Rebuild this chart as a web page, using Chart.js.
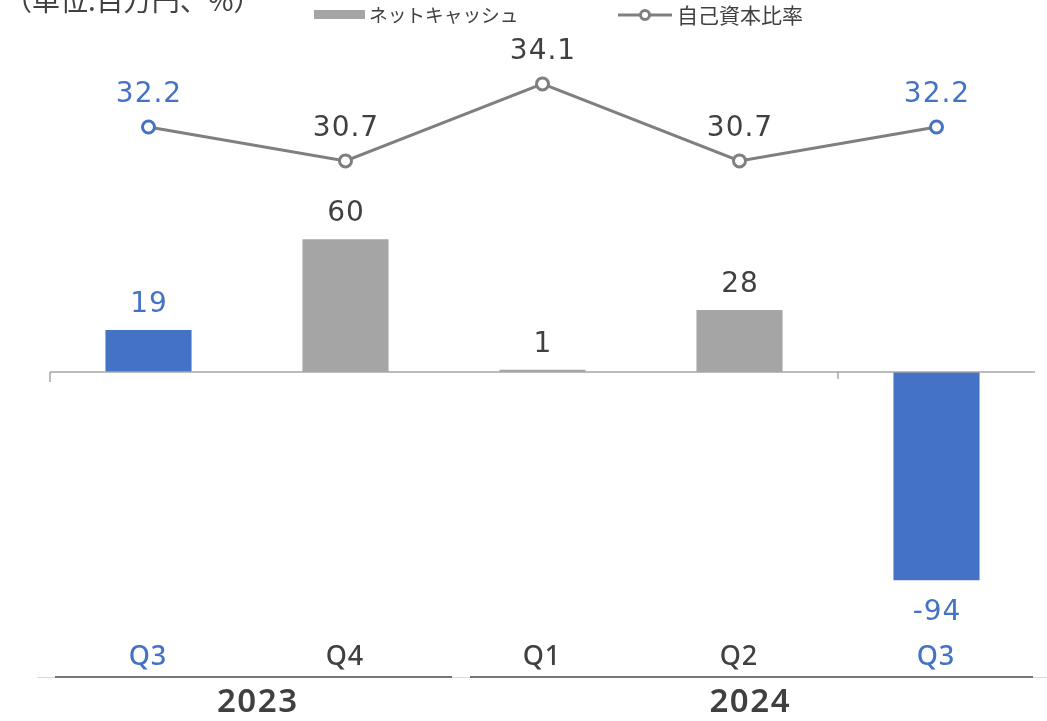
<!DOCTYPE html>
<html>
<head>
<meta charset="utf-8">
<script src="https://cdn.jsdelivr.net/npm/chart.js@4"></script>
<style>
  html, body { margin: 0; padding: 0; background: #fff; }
  #wrap { width: 1047px; height: 721px; position: relative; }
</style>
</head>
<body>
<div id="wrap"><canvas id="myChart"></canvas></div>
<script>
// data
const quarters = ['Q3', 'Q4', 'Q1', 'Q2', 'Q3'];
const years = ['2023', '2023', '2024', '2024', '2024'];
const netCash = [19, 60, 1, 28, -94];
const equityRatio = [32.2, 30.7, 34.1, 30.7, 32.2];
const highlighted = [true, false, false, false, true];

const BLUE = '#4472C4';
const GRAY_BAR = '#A5A5A5';
const GRAY_LINE = '#7F7F7F';
const TEXT = '#404040';
const FONT = '"Noto Sans", "Noto Sans CJK JP", sans-serif';
const NUMFONT = '"DejaVu Sans", sans-serif';
const JFONT = '"Noto Sans CJK JP", sans-serif';

const barColors = highlighted.map(h => h ? BLUE : GRAY_BAR);
const pointColors = highlighted.map(h => h ? BLUE : GRAY_LINE);
const labelColors = highlighted.map(h => h ? BLUE : TEXT);

// centered text with letter spacing
function spacedText(ctx, text, cx, y, spacing) {
  ctx.letterSpacing = spacing + 'px';
  ctx.textAlign = 'center';
  ctx.fillText(text, cx + spacing / 2, y);
  ctx.letterSpacing = '0px';
}

// value labels, axis line, quarter/year labels, legend
const decorations = {
  id: 'decorations',
  afterDatasetsDraw(chart) {
    const ctx = chart.ctx;
    const x = chart.scales.x;
    const y = chart.scales.y;
    const zero = y.getPixelForValue(0);
    const step = x.getPixelForValue(1) - x.getPixelForValue(0);
    ctx.save();

    // zero line
    ctx.strokeStyle = '#A6A6A6';
    ctx.lineWidth = 1.5;
    ctx.beginPath();
    ctx.moveTo(x.left, zero);
    ctx.lineTo(x.right, zero);
    ctx.moveTo(x.left, zero);
    ctx.lineTo(x.left, zero + 10);
    const b = x.getPixelForValue(3) + step / 2;
    ctx.moveTo(b, zero);
    ctx.lineTo(b, zero + 7);
    ctx.stroke();

    ctx.textBaseline = 'alphabetic';

    // bar labels
    ctx.font = '28px ' + NUMFONT;
    const bars = chart.getDatasetMeta(0).data;
    bars.forEach((bar, i) => {
      ctx.fillStyle = labelColors[i];
      const ty = netCash[i] >= 0 ? bar.y - 18 : bar.y + 40;
      spacedText(ctx, String(netCash[i]), bar.x, ty, 1);
    });

    // line labels
    const pts = chart.getDatasetMeta(1).data;
    pts.forEach((p, i) => {
      ctx.fillStyle = labelColors[i];
      spacedText(ctx, equityRatio[i].toFixed(1), p.x, p.y - 25, 1);
    });

    // quarter labels
    ctx.font = '500 27px ' + FONT;
    quarters.forEach((q, i) => {
      ctx.fillStyle = labelColors[i];
      spacedText(ctx, q, x.getPixelForValue(i) - 1, 665, 1);
    });

    // light base line
    ctx.strokeStyle = '#D9D9D9';
    ctx.lineWidth = 1;
    ctx.beginPath();
    ctx.moveTo(37, 677.5);
    ctx.lineTo(chart.width, 677.5);
    ctx.stroke();

    // year groups
    const groups = [];
    years.forEach((yr, i) => {
      const last = groups[groups.length - 1];
      if (last && last.name === yr) last.end = i; else groups.push({ name: yr, start: i, end: i });
    });
    ctx.font = '600 33px ' + FONT;
    groups.forEach((g, gi) => {
      const gl = x.getPixelForValue(g.start) - step / 2;
      const gr = x.getPixelForValue(g.end) + step / 2;
      const l = gl + (gi === 0 ? 5 : 26);
      const r = gr + (gi === groups.length - 1 ? -2 : 8);
      ctx.strokeStyle = '#767676';
      ctx.lineWidth = 2;
      ctx.beginPath();
      ctx.moveTo(l, 677);
      ctx.lineTo(r, 677);
      ctx.stroke();
      ctx.fillStyle = TEXT;
      spacedText(ctx, g.name, (gl + gr) / 2 + 10, 712, 1.5);
    });

    // unit label (cut at top)
    ctx.font = '28px ' + JFONT;
    ctx.textAlign = 'left';
    ctx.fillStyle = TEXT;
    ctx.fillText('（単位:百万円、%）', 4, 11);

    // legend
    ctx.textBaseline = 'middle';
    ctx.fillStyle = GRAY_BAR;
    ctx.fillRect(314, 10, 51, 9);
    ctx.fillStyle = TEXT;
    ctx.font = '18.7px ' + JFONT;
    ctx.fillText(chart.data.datasets[0].label, 369, 15);
    ctx.strokeStyle = GRAY_LINE;
    ctx.lineWidth = 3;
    ctx.beginPath();
    ctx.moveTo(618, 15);
    ctx.lineTo(672, 15);
    ctx.stroke();
    ctx.fillStyle = '#fff';
    ctx.beginPath();
    ctx.arc(645, 15, 4.5, 0, Math.PI * 2);
    ctx.fill();
    ctx.stroke();
    ctx.fillStyle = TEXT;
    ctx.font = '21px ' + JFONT;
    ctx.fillText(chart.data.datasets[1].label, 677, 15);

    ctx.restore();
  }
};

const ctx = document.getElementById('myChart').getContext('2d');
const chart = new Chart(ctx, {
  type: 'bar',
  data: {
    labels: quarters.map((q, i) => years[i] + ' ' + q),
    datasets: [{
      type: 'bar',
      label: 'ネットキャッシュ',
      data: netCash,
      backgroundColor: barColors,
      categoryPercentage: 1,
      barPercentage: 0.437,
      yAxisID: 'y',
      order: 2
    }, {
      type: 'line',
      label: '自己資本比率',
      data: equityRatio,
      borderColor: GRAY_LINE,
      borderWidth: 3,
      pointRadius: 6,
      pointBorderWidth: 3,
      pointBackgroundColor: '#fff',
      pointBorderColor: pointColors,
      yAxisID: 'y2',
      order: 1
    }]
  },
  options: {
    responsive: true,
    maintainAspectRatio: false,
    animation: false,
    layout: { padding: { left: 50, right: 12, top: 30, bottom: 81 } },
    plugins: { legend: { display: false }, tooltip: { enabled: false } },
    scales: {
      x: { display: false },
      y: { display: false, min: -121, max: 154.5 },
      y2: { display: false, min: 9.55, max: 36.48 }
    }
  },
  plugins: [decorations]
});
</script>
</body>
</html>
